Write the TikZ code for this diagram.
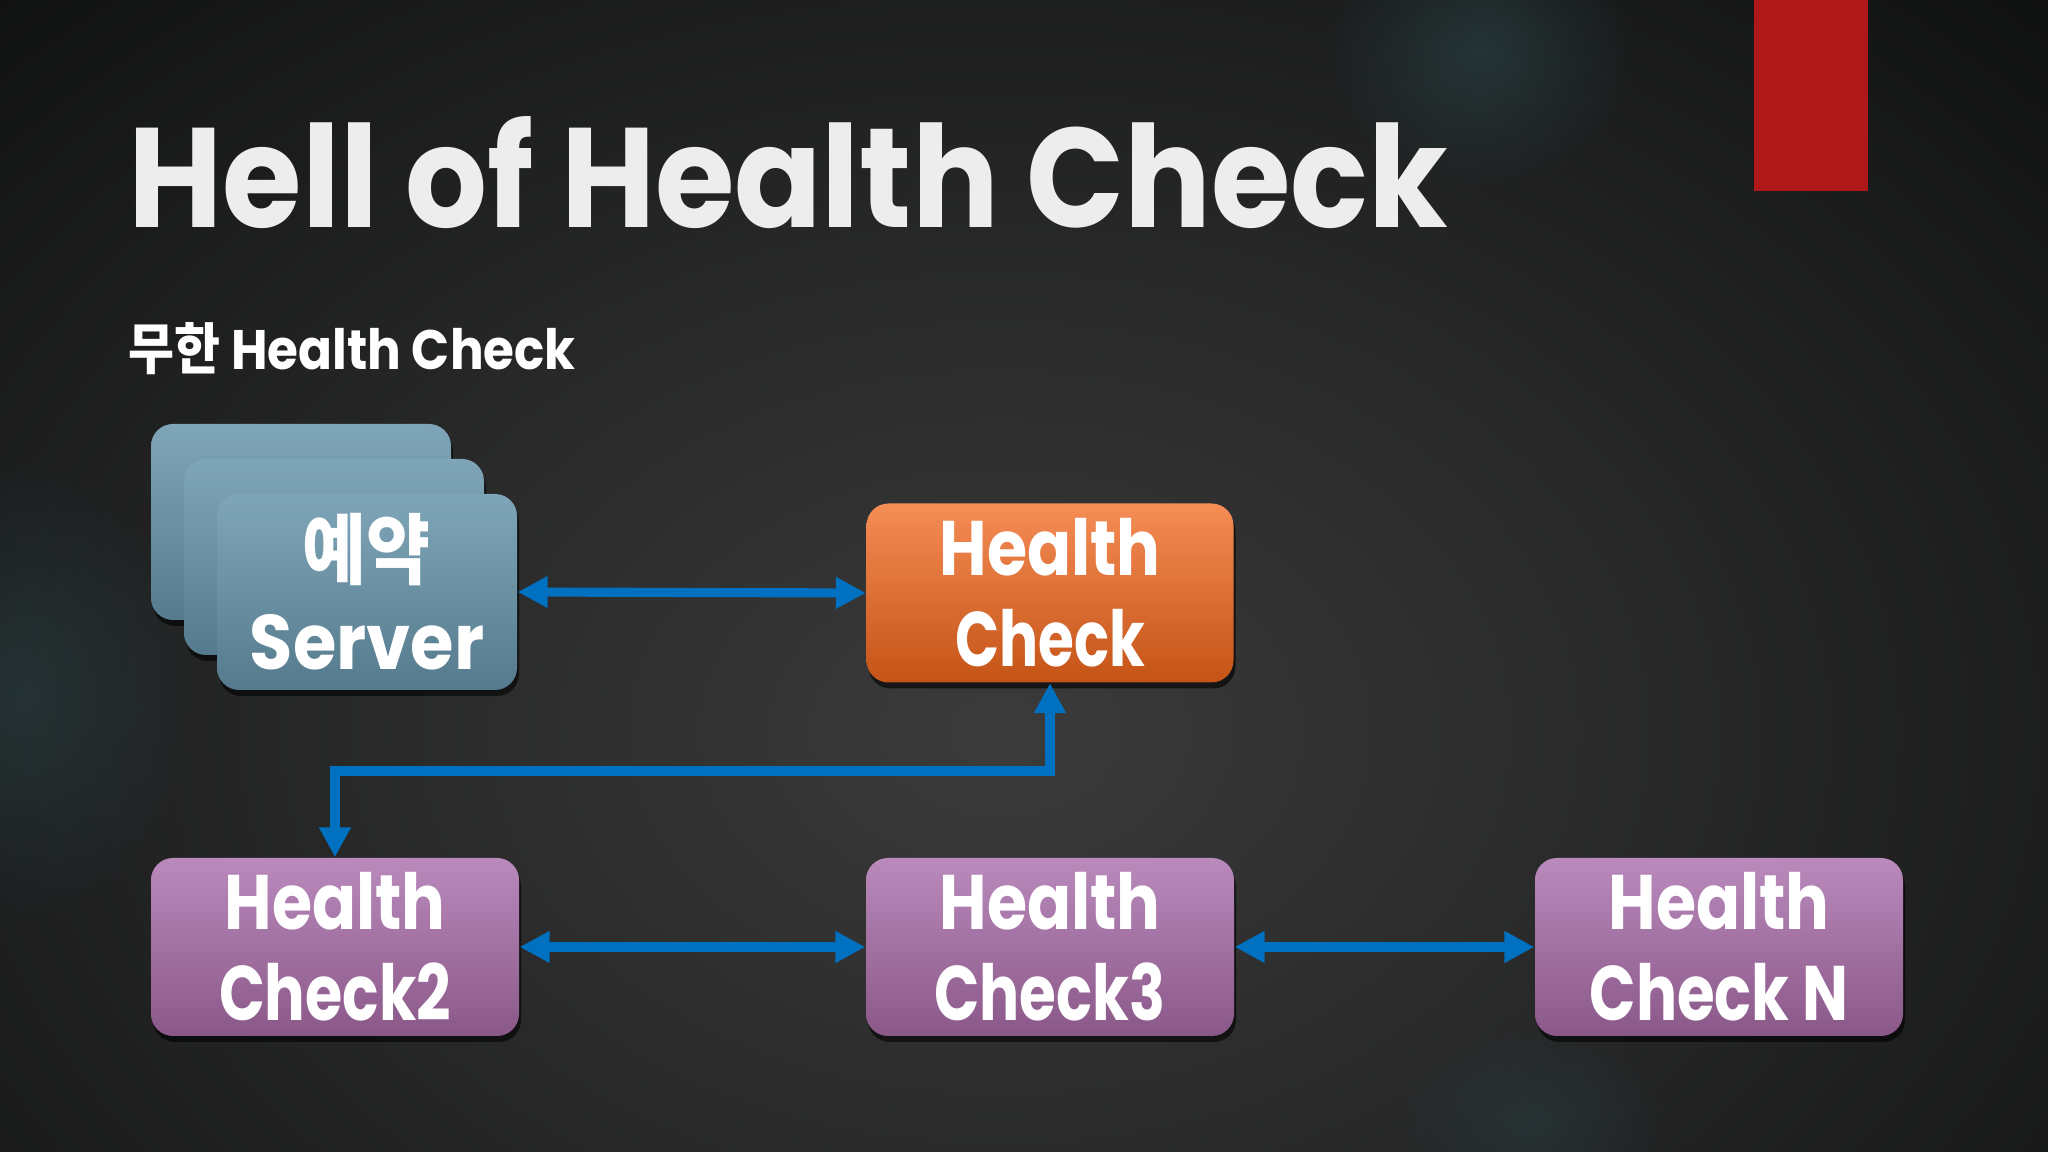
\documentclass[tikz,border=0pt]{standalone}
\usepackage{fontspec}
\setmainfont{Poppins}
\newfontfamily\kr{Noto Sans CJK KR}
\usetikzlibrary{arrows.meta,shadows,fadings}
\tikzfading[name=glowfade, inner color=transparent!0, outer color=transparent!100]
\definecolor{bgdark}{HTML}{0E0F0F}
\definecolor{bgmid}{HTML}{3B3B3C}
\definecolor{glow}{HTML}{2A4448}
\definecolor{arrowblue}{HTML}{0070C0}
\definecolor{redbar}{HTML}{AE1818}
\definecolor{srvtop}{HTML}{7FA6B8}
\definecolor{srvbot}{HTML}{557A8D}
\definecolor{orgtop}{HTML}{F58D56}
\definecolor{orgbot}{HTML}{C55316}
\definecolor{purtop}{HTML}{BA8ABD}
\definecolor{purbot}{HTML}{8A5888}
\definecolor{titlecol}{HTML}{EDEDED}
\newcommand{\boxfont}{\bfseries\fontsize{22}{26}\selectfont}
\newcommand{\sx}[2]{\scalebox{#1}[1]{#2}}
\tikzset{
  card/.style={rounded corners=0.22cm, inner sep=0pt, align=center, text=white,
    font=\boxfont,
    drop shadow={shadow xshift=0.02cm, shadow yshift=-0.06cm, opacity=0.6, fill=black}},
  servercard/.style={card, minimum width=3cm, minimum height=1.96cm, top color=srvtop, bottom color=srvbot},
  hcorange/.style={card, minimum width=3.67cm, minimum height=1.79cm, top color=orgtop, bottom color=orgbot},
  hcpurple/.style={card, minimum width=3.68cm, minimum height=1.78cm, top color=purtop, bottom color=purbot},
  conn/.style={draw=arrowblue, line width=2.6pt,
    {Triangle[length=0.3cm,width=0.3cm]}-{Triangle[length=0.3cm,width=0.3cm]}}
}
\begin{document}
\begin{tikzpicture}
\useasboundingbox (0,0) rectangle (20.48,11.52);
\fill[bgdark] (0,0) rectangle (20.48,11.52);
\begin{scope}
  \clip (0,0) rectangle (20.48,11.52);
  \shade[inner color=bgmid, outer color=bgdark] (10.0,4.2) ellipse (15.5 and 11);
  \fill[glow, opacity=0.6, path fading=glowfade] (14.8,11.0) ellipse (1.6 and 1.4);
  \fill[glow, opacity=0.5, path fading=glowfade] (0.2,4.6) ellipse (1.8 and 2.4);
  \fill[glow, opacity=0.4, path fading=glowfade] (15.3,0.3) ellipse (1.4 and 1.0);
\end{scope}

% red bar
\fill[redbar] (17.54,11.52) rectangle (18.68,9.61);

% title
\node[anchor=base west, inner sep=0pt, text=titlecol, font=\bfseries] (title) at (1.28,9.24)
  {\resizebox{13.19cm}{1.11cm}{Hell of Health Check}};
\node[anchor=base west, inner sep=0pt, text=white, font=\bfseries] (subtitle) at (1.28,7.82)
  {\resizebox{4.47cm}{0.47cm}{{\kr 무한} Health Check}};

% server stack
\node[servercard] (srv3) at (3.01,6.30) {};
\node[servercard] (srv2) at (3.34,5.95) {};
\node[servercard] (srv) at (3.67,5.60) {\sx{0.9}{\kr\bfseries 예약}\\\sx{0.91}{Server}};

% health checks
\node[hcorange] (hc) at (10.50,5.59) {\sx{0.84}{Health}\\\sx{0.75}{Check}};
\node[hcpurple] (hc2) at (3.35,2.05) {\sx{0.84}{Health}\\\sx{0.78}{Check2}};
\node[hcpurple] (hc3) at (10.50,2.05) {\sx{0.84}{Health}\\\sx{0.77}{Check3}};
\node[hcpurple] (hcn) at (17.19,2.05) {\sx{0.84}{Health}\\\sx{0.79}{Check N}};

% connectors
\coordinate (elb) at (3.35,3.81);
\draw[conn] (srv.east) -- (hc.west);
\draw[conn] (hc.south) |- (elb) -- (hc2.north);
\draw[conn] (hc2.east) -- (hc3.west);
\draw[conn] (hc3.east) -- (hcn.west);
\end{tikzpicture}
\end{document}
